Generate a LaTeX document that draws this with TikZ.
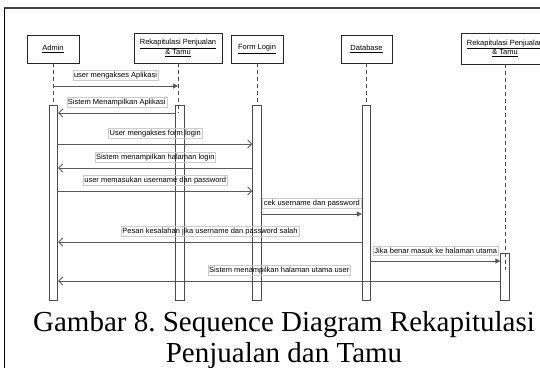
\documentclass[tikz,border=0pt]{standalone}
\usepackage{fontspec}
\setmainfont{Liberation Serif}
\newfontfamily\diagfont{Liberation Sans}
\usetikzlibrary{arrows.meta}
\frenchspacing
\begin{document}
\begin{tikzpicture}[x=1pt,y=-1pt,
  dfont/.style={font=\diagfont\fontsize{7.5}{9.5}\selectfont},
  obj/.style={draw=black!85, line width=0.8pt, fill=white, dfont, align=center, inner sep=0pt},
  bar/.style={draw=black!70, line width=0.8pt, minimum width=8.5pt, minimum height=195pt, inner sep=0pt, anchor=north},
  life/.style={draw=black!70, line width=0.8pt, dash pattern=on 4pt off 3pt},
  msg/.style={draw=black!65, line width=0.9pt},
  sync/.style={msg, -{Triangle[length=5pt,width=5pt]}},
  ret/.style={msg, -{Straight Barb[length=4pt,width=8pt]}},
  lbl/.style={draw=black!20, line width=0.4pt, dfont, text=black, inner xsep=1.2pt, inner ysep=1.6pt, midway, above=5.5pt},
  captext/.style={font=\fontsize{29}{33.3}\selectfont, inner sep=0pt, anchor=base}
]
\useasboundingbox (0,0) rectangle (540,367);
\fill[white] (0,0) rectangle (540,367);
% frame
\draw[line width=1.8pt, black!75] (4,8) -- (541,8);
\draw[line width=1.3pt, black] (4.6,7.5) -- (4.6,368);

% objects
\node[obj, minimum width=52pt, minimum height=28pt] (admin) at (53,49) {\underline{Admin}};
\node[obj, minimum width=88pt, minimum height=30pt] (rek1) at (178,48) {\underline{Rekapitulasi Penjualan}\\\underline{\& Tamu}};
\node[obj, minimum width=52pt, minimum height=28pt] (login) at (257,49) {\underline{Form Login}};
\node[obj, minimum width=51pt, minimum height=28pt] (db) at (366.5,49) {\underline{Database}};
\node[obj, minimum width=88pt, minimum height=31pt] (rek2) at (505,48.5) {\underline{Rekapitulasi Penjualan}\\\underline{\& Tamu}};

% activation bars
\node[bar] (adminbar) at (53.5,105) {};
\node[bar] (rek1bar) at (180,105) {};
\node[bar] (loginbar) at (257,105) {};
\node[bar] (dbbar) at (366.5,105) {};
\node[bar, minimum height=47pt] (rek2bar) at (505,253) {};

% lifelines
\draw[life] (admin.south) -- (adminbar.north -| admin.south);
\draw[life] (rek1.south) -- ([yshift=-8pt]rek1bar.north -| rek1.south);
\draw[life] (login.south) -- (loginbar.north -| login.south);
\draw[life] (db.south) -- (dbbar.north -| db.south);
\draw[life] (rek2.south) -- ([yshift=-17pt]rek2bar.north -| rek2.south);

% messages
\draw[sync] (admin.south |- 0,86) -- (rek1.south |- 0,86) node[lbl] {user mengakses Aplikasi};
\draw[ret] (rek1bar.west |- 0,113) -- (adminbar.east |- 0,113) node[lbl] {Sistem Menampilkan Aplikasi};
\draw[ret] (adminbar.east |- 0,144) -- (loginbar.west |- 0,144) node[lbl] {User mengakses form login};
\draw[ret] (loginbar.west |- 0,168) -- (adminbar.east |- 0,168) node[lbl] {Sistem menampilkan halaman login};
\draw[ret] (adminbar.east |- 0,191) -- (loginbar.west |- 0,191) node[lbl] {user memasukan username dan password};
\draw[sync] (loginbar.east |- 0,214) -- (dbbar.west |- 0,214) node[lbl] {cek username dan password};
\draw[ret] (dbbar.west |- 0,242) -- (adminbar.east |- 0,242) node[lbl] {Pesan kesalahan jika username dan password salah};
\draw[sync] (dbbar.east |- 0,261) -- (rek2bar.west |- 0,261) node[lbl] {Jika benar masuk ke halaman utama};
\draw[ret] (rek2bar.west |- 0,281) -- (adminbar.east |- 0,281) node[lbl] {Sistem menampilkan halaman utama user};

% caption
\node[captext] (cap1) at (284,331.7) {Gambar 8. Sequence Diagram Rekapitulasi};
\node[captext] (cap2) at (284,362) {Penjualan dan Tamu};
\end{tikzpicture}
\end{document}
